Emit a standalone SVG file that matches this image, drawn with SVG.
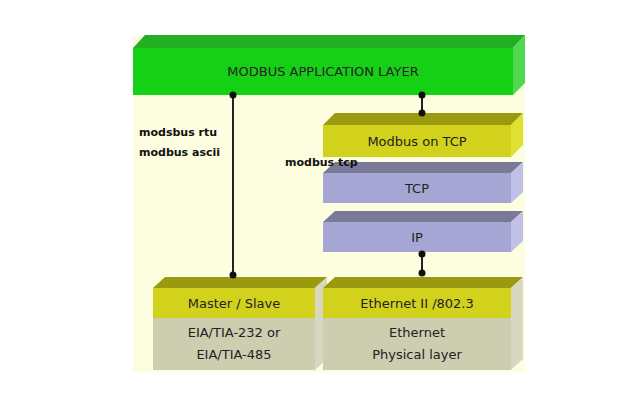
<svg xmlns="http://www.w3.org/2000/svg" width="627" height="404" viewBox="0 0 627 404">
<style>
.t{font-family:"Comic Sans MS","DejaVu Sans",sans-serif;font-size:13px;fill:#222;text-anchor:middle}
.b{font-family:"DejaVu Sans",sans-serif;font-size:11px;font-weight:bold;fill:#111}
.l{stroke:#222;stroke-width:2}
</style>
<rect width="627" height="404" fill="#fff"/>
<rect x="133" y="35" width="392" height="337" fill="#fdfde0"/>
<g id="app">
<polygon points="133,48 145,35 525,35 513,48" fill="#22b022"/>
<polygon points="513,48 525,35 525,83 513,95" fill="#4fd84f"/>
<rect x="133" y="48" width="380" height="47" fill="#16d016"/>
<text class="t" x="323" y="76">MODBUS APPLICATION LAYER</text>
</g>
<g id="mtcp">
<polygon points="323,125 335,113 523,113 511,125" fill="#9a9a10"/>
<polygon points="511,125 523,113 523,145 511,157" fill="#e0e030"/>
<rect x="323" y="125" width="188" height="32" fill="#d2d21c"/>
<text class="t" x="417" y="146">Modbus on TCP</text>
</g>
<g id="tcp">
<polygon points="323,173 335,162 523,162 511,173" fill="#7a7a98"/>
<polygon points="511,173 523,162 523,192 511,203" fill="#c0c0e8"/>
<rect x="323" y="173" width="188" height="30" fill="#a6a6d4"/>
<text class="t" x="417" y="193">TCP</text>
</g>
<g id="ip">
<polygon points="323,222 335,211 523,211 511,222" fill="#7a7a98"/>
<polygon points="511,222 523,211 523,241 511,252" fill="#c0c0e8"/>
<rect x="323" y="222" width="188" height="30" fill="#a6a6d4"/>
<text class="t" x="417" y="242">IP</text>
</g>
<g id="ms">
<polygon points="153,288 165,277 327,277 315,288" fill="#9a9a10"/>
<polygon points="315,288 327,277 327,359 315,370" fill="#d8d8c0"/>
<rect x="153" y="288" width="162" height="30" fill="#d2d21c"/>
<rect x="153" y="318" width="162" height="52" fill="#cdcdb0"/>
<text class="t" x="234" y="308">Master / Slave</text>
<text class="t" x="234" y="337">EIA/TIA-232 or</text>
<text class="t" x="234" y="359">EIA/TIA-485</text>
</g>
<g id="eth">
<polygon points="323,288 335,277 523,277 511,288" fill="#9a9a10"/>
<polygon points="511,288 523,277 523,359 511,370" fill="#d8d8c0"/>
<rect x="323" y="288" width="188" height="30" fill="#d2d21c"/>
<rect x="323" y="318" width="188" height="52" fill="#cdcdb0"/>
<text class="t" x="417" y="308">Ethernet II /802.3</text>
<text class="t" x="417" y="337">Ethernet</text>
<text class="t" x="417" y="359">Physical layer</text>
</g>
<g id="connectors">
<line class="l" x1="233" y1="95" x2="233" y2="275"/>
<circle cx="233" cy="95" r="3.5" fill="#111"/><circle cx="233" cy="275" r="3.5" fill="#111"/>
<line class="l" x1="422" y1="95" x2="422" y2="113"/>
<circle cx="422" cy="95" r="3.5" fill="#111"/><circle cx="422" cy="113" r="3.5" fill="#111"/>
<line class="l" x1="422" y1="254" x2="422" y2="273"/>
<circle cx="422" cy="254" r="3.5" fill="#111"/><circle cx="422" cy="273" r="3.5" fill="#111"/>
</g>
<text class="b" x="139" y="136">modsbus rtu</text>
<text class="b" x="139" y="156">modbus ascii</text>
<text class="b" x="285" y="166">modbus tcp</text>
</svg>
